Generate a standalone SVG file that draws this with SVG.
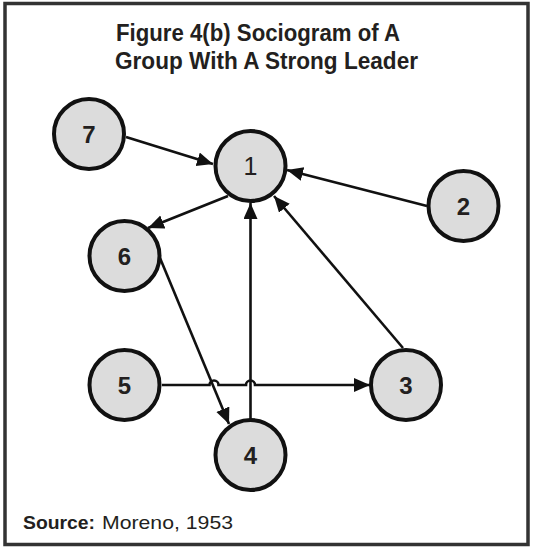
<svg xmlns="http://www.w3.org/2000/svg" width="535" height="548" viewBox="0 0 535 548">
<defs>
<marker id="arr" markerUnits="userSpaceOnUse" markerWidth="18" markerHeight="16" refX="16" refY="7" orient="auto">
<path d="M0,0 L16,7 L0,14 z" fill="#111"/>
</marker>
</defs>
<style>
.node circle{fill:#dcdcdc;stroke:#111;stroke-width:4}
.node text{font-family:"Liberation Sans",Arial,sans-serif;font-size:24px;font-weight:bold;fill:#231f20;text-anchor:middle}
.edge{stroke:#111;stroke-width:2.6;fill:none;marker-end:url(#arr)}
.title{font-family:"Liberation Sans",Arial,sans-serif;font-size:23px;font-weight:bold;fill:#231f20}
.src{font-family:"Liberation Sans",Arial,sans-serif;font-size:19px;fill:#231f20}
</style>
<rect x="0" y="0" width="535" height="548" fill="#fff"/>
<rect x="5" y="3.5" width="523" height="541" fill="none" stroke="#333" stroke-width="3.5"/>
<text class="title" x="116" y="41" textLength="284" lengthAdjust="spacingAndGlyphs">Figure 4(b) Sociogram of A</text>
<text class="title" x="115" y="69" textLength="303" lengthAdjust="spacingAndGlyphs">Group With A Strong Leader</text>
<g id="connectors">
<path class="edge" d="M126,137 L213,164"/>
<path class="edge" d="M427,206 L287,170"/>
<path class="edge" d="M403,348 L274,196"/>
<path class="edge" d="M250.5,419 L250.5,203"/>
<path class="edge" d="M228,196 L148,228"/>
<path class="edge" d="M160,258 L229,424"/>
<path class="edge" d="M162,385 H209.5 a4.5,4.5 0 0 1 9,0 H246 a4.5,4.5 0 0 1 9,0 H370"/>
</g>
<g id="node-7" class="node"><circle cx="89" cy="134" r="35"/><text x="89" y="143">7</text></g>
<g id="node-1" class="node"><circle cx="250.5" cy="166" r="35"/><text x="250.5" y="175" style="font-weight:normal;font-size:25px">1</text></g>
<g id="node-2" class="node"><circle cx="463.5" cy="206" r="35"/><text x="463.5" y="215">2</text></g>
<g id="node-6" class="node"><circle cx="124.5" cy="256" r="35"/><text x="124.5" y="265">6</text></g>
<g id="node-5" class="node"><circle cx="124.5" cy="385" r="35"/><text x="124.5" y="394">5</text></g>
<g id="node-3" class="node"><circle cx="406" cy="385" r="35"/><text x="406" y="394">3</text></g>
<g id="node-4" class="node"><circle cx="250.5" cy="455" r="35"/><text x="250.5" y="464">4</text></g>
<text class="src" x="23" y="529"><tspan font-weight="bold" textLength="72" lengthAdjust="spacingAndGlyphs">Source:</tspan><tspan x="102" textLength="131" lengthAdjust="spacingAndGlyphs">Moreno, 1953</tspan></text>
</svg>
